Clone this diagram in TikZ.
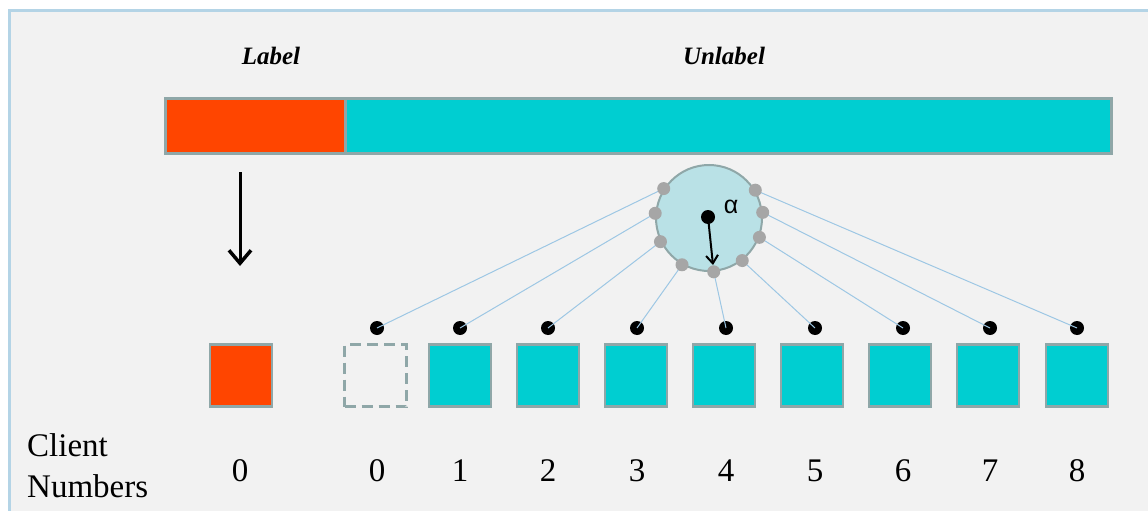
\documentclass[tikz,border=0pt]{standalone}
\usepackage{fontspec}
\setmainfont{Liberation Serif}
\newfontfamily\serf{Liberation Serif}
\newfontfamily\sansf{Liberation Sans}
\usetikzlibrary{arrows.meta}
\definecolor{bgc}{HTML}{F2F2F2}
\definecolor{framec}{HTML}{B4D4E6}
\definecolor{redc}{HTML}{FF4500}
\definecolor{cyanc}{HTML}{00CED1}
\definecolor{edgec}{HTML}{8FA7A8}
\definecolor{circc}{HTML}{B9E1E6}
\definecolor{graydot}{HTML}{A6A6A6}
\definecolor{linkc}{HTML}{9DC7E4}
\begin{document}
\begin{tikzpicture}[x=1pt,y=-1pt,
  sq/.style={draw=edgec, line width=2.5pt, minimum size=62pt, inner sep=0pt, fill=cyanc},
  redsq/.style={sq, fill=redc},
  dashsq/.style={draw=edgec, line width=3pt, minimum size=62pt, inner sep=0pt, dash pattern=on 11pt off 6pt},
  bdot/.style={circle, fill=black, inner sep=0pt, minimum size=14pt},
  gdot/.style={circle, fill=graydot, inner sep=0pt, minimum size=13pt},
  link/.style={draw=linkc, line width=1pt},
  num/.style={font=\serf\fontsize{33}{40}\selectfont, anchor=base},
  toplabel/.style={font=\serf\fontsize{25}{28}\selectfont\bfseries\itshape, anchor=base},
]
\useasboundingbox (0,0) rectangle (1148,511);
% frame
\fill[bgc] (9,11) rectangle (1148,511);
\draw[framec, line width=3pt] (9,511) -- (9,11) -- (1148,11);

% top labels
\node[toplabel] (lab) at (271,64) {Label};
\node[toplabel] (unlab) at (724,64) {Unlabel};

% bar
\node[draw=edgec, line width=2.5pt, fill=redc, minimum width=180pt, minimum height=55pt, inner sep=0pt, anchor=north west] (barl) at (164,97) {};
\node[draw=edgec, line width=2.5pt, fill=cyanc, minimum width=766pt, minimum height=55pt, inner sep=0pt, anchor=north west] (barr) at (344,97) {};

% down arrow
\coordinate (a1) at (240,172);
\coordinate (a2) at (240,266);
\draw[line width=3pt, -{Straight Barb[length=13pt,width=22pt,line width=3.5pt]}] (a1) -- (a2);

% circle
\node[circle, draw=edgec, line width=2pt, fill=circc, minimum size=106pt, inner sep=0pt] (c) at (709,218) {};
\node[bdot] (cc) at (708,217) {};
\node[font=\sansf\fontsize{25}{28}\selectfont] (alpha) at (731,207) {α};

% squares
\node[redsq] (s0) at (241,375.5) {};
\node[dashsq] (d0) at (375.5,375.5) {};
\foreach \i/\x in {1/460,2/548,3/636,4/724,5/812,6/900,7/988,8/1077}{
  \node[sq] (s\i) at (\x,375.5) {};
}

% black dots
\node[bdot] (b0) at (377,328) {};
\foreach \i/\x in {1/460,2/548,3/637,4/726,5/815,6/903,7/990,8/1077}{
  \node[bdot] (b\i) at (\x,328) {};
}

% gray dots and links
\foreach \i/\a in {0/147,1/175,2/206,3/240,4/275,5/308,6/339,7/6,8/31.5}{
  \draw[link] (c.\a) -- (b\i.center);
}
\foreach \i/\a in {0/147,1/175,2/206,3/240,4/275,5/308,6/339,7/6,8/31.5}{
  \node[gdot] (g\i) at (c.\a) {};
}
\draw[line width=2pt, -{Straight Barb[length=8pt,width=12pt,line width=2pt]}] (cc.center) -- (713,265);

% numbers
\node[num] (n00) at (240,481) {0};
\node[num] (n0) at (377,481) {0};
\foreach \i/\x in {1/460,2/548,3/637,4/726,5/815,6/903,7/990,8/1077}{
  \node[num] (n\i) at (\x,481) {\i};
}
\node[font=\serf\fontsize{33}{41}\selectfont, align=left, anchor=west, inner sep=0pt] (cn) at (27,466) {\serf Client\\\serf Numbers};
\end{tikzpicture}
\end{document}
